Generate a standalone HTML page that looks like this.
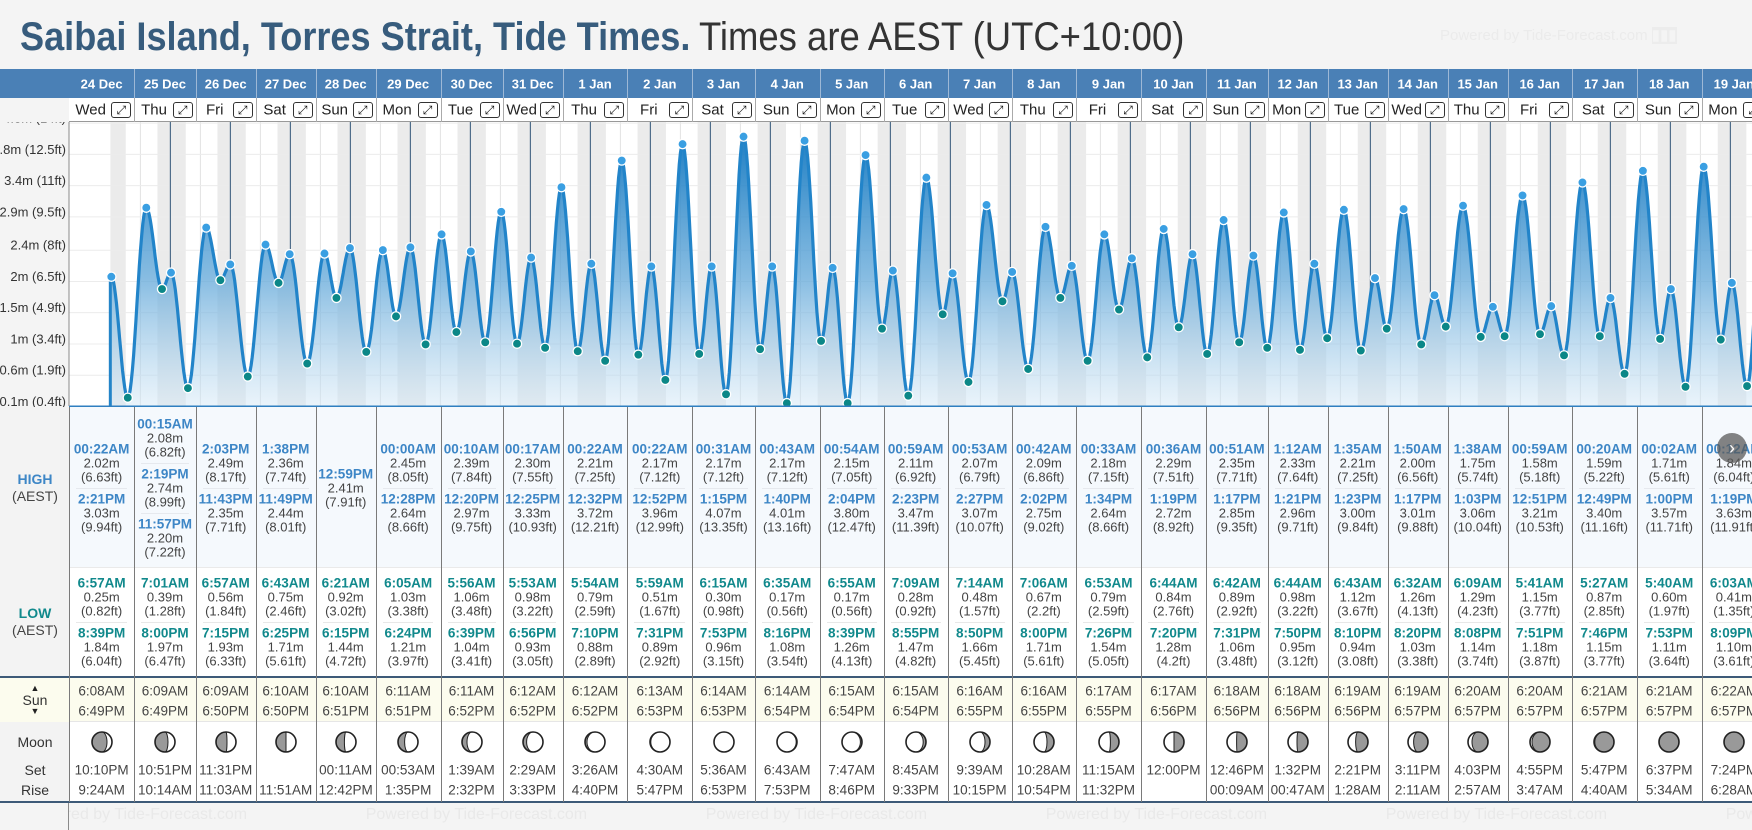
<!DOCTYPE html>
<html><head><meta charset="utf-8">
<style>
*{margin:0;padding:0;box-sizing:border-box}
html,body{overflow:hidden}
body{width:1752px;height:830px;overflow:hidden;background:#f4f4f4;font-family:"Liberation Sans",Arial,sans-serif;position:relative;color:#444}
.abs{position:absolute}
.t{position:absolute;white-space:nowrap;transform:translate(-50%,-50%)}
</style></head><body>
<div id="title" class="abs" style="left:20px;top:13px;height:48px;white-space:nowrap;font-size:40px;line-height:48px">
<span id="tb" style="display:inline-block;font-weight:bold;color:#375c7d;transform-origin:0 50%">Saibai Island, Torres Strait, Tide Times.</span>
<span id="tn" style="display:inline-block;color:#333;transform-origin:0 50%;position:absolute;left:679px;top:0">Times are AEST (UTC+10:00)</span>
</div>
<div class="abs" style="left:1440px;top:26px;font-size:15px;color:#ebebeb;white-space:nowrap">Powered by Tide-Forecast.com <span style="background:#ececec;color:#f4f4f4">▮▮▮</span></div>
<svg id="chart" class="abs" style="left:0;top:0" width="1752" height="830"></svg>
<div id="table" class="abs" style="left:0;top:0;width:1752px;height:830px;overflow:hidden"></div>
<div class="abs" style="left:1717px;top:433px;width:30px;height:30px;border-radius:50%;background:rgba(90,90,90,0.75);color:#fff;font-size:18px;line-height:30px;text-align:center">›</div>
<script>
const dates=["24 Dec","25 Dec","26 Dec","27 Dec","28 Dec","29 Dec","30 Dec","31 Dec","1 Jan","2 Jan","3 Jan","4 Jan","5 Jan","6 Jan","7 Jan","8 Jan","9 Jan","10 Jan","11 Jan","12 Jan","13 Jan","14 Jan","15 Jan","16 Jan","17 Jan","18 Jan","19 Jan"];
const weekdays=["Wed","Thu","Fri","Sat","Sun","Mon","Tue","Wed","Thu","Fri","Sat","Sun","Mon","Tue","Wed","Thu","Fri","Sat","Sun","Mon","Tue","Wed","Thu","Fri","Sat","Sun","Mon"];
const highs=["00:22AM 2.02 6.63|2:21PM 3.03 9.94","00:15AM 2.08 6.82|2:19PM 2.74 8.99|11:57PM 2.20 7.22","2:03PM 2.49 8.17|11:43PM 2.35 7.71","1:38PM 2.36 7.74|11:49PM 2.44 8.01","12:59PM 2.41 7.91","00:00AM 2.45 8.05|12:28PM 2.64 8.66","00:10AM 2.39 7.84|12:20PM 2.97 9.75","00:17AM 2.30 7.55|12:25PM 3.33 10.93","00:22AM 2.21 7.25|12:32PM 3.72 12.21","00:22AM 2.17 7.12|12:52PM 3.96 12.99","00:31AM 2.17 7.12|1:15PM 4.07 13.35","00:43AM 2.17 7.12|1:40PM 4.01 13.16","00:54AM 2.15 7.05|2:04PM 3.80 12.47","00:59AM 2.11 6.92|2:23PM 3.47 11.39","00:53AM 2.07 6.79|2:27PM 3.07 10.07","00:42AM 2.09 6.86|2:02PM 2.75 9.02","00:33AM 2.18 7.15|1:34PM 2.64 8.66","00:36AM 2.29 7.51|1:19PM 2.72 8.92","00:51AM 2.35 7.71|1:17PM 2.85 9.35","1:12AM 2.33 7.64|1:21PM 2.96 9.71","1:35AM 2.21 7.25|1:23PM 3.00 9.84","1:50AM 2.00 6.56|1:17PM 3.01 9.88","1:38AM 1.75 5.74|1:03PM 3.06 10.04","00:59AM 1.58 5.18|12:51PM 3.21 10.53","00:20AM 1.59 5.22|12:49PM 3.40 11.16","00:02AM 1.71 5.61|1:00PM 3.57 11.71","00:12AM 1.84 6.04|1:19PM 3.63 11.91"];
const lows=["6:57AM 0.25 0.82|8:39PM 1.84 6.04","7:01AM 0.39 1.28|8:00PM 1.97 6.47","6:57AM 0.56 1.84|7:15PM 1.93 6.33","6:43AM 0.75 2.46|6:25PM 1.71 5.61","6:21AM 0.92 3.02|6:15PM 1.44 4.72","6:05AM 1.03 3.38|6:24PM 1.21 3.97","5:56AM 1.06 3.48|6:39PM 1.04 3.41","5:53AM 0.98 3.22|6:56PM 0.93 3.05","5:54AM 0.79 2.59|7:10PM 0.88 2.89","5:59AM 0.51 1.67|7:31PM 0.89 2.92","6:15AM 0.30 0.98|7:53PM 0.96 3.15","6:35AM 0.17 0.56|8:16PM 1.08 3.54","6:55AM 0.17 0.56|8:39PM 1.26 4.13","7:09AM 0.28 0.92|8:55PM 1.47 4.82","7:14AM 0.48 1.57|8:50PM 1.66 5.45","7:06AM 0.67 2.2|8:00PM 1.71 5.61","6:53AM 0.79 2.59|7:26PM 1.54 5.05","6:44AM 0.84 2.76|7:20PM 1.28 4.2","6:42AM 0.89 2.92|7:31PM 1.06 3.48","6:44AM 0.98 3.22|7:50PM 0.95 3.12","6:43AM 1.12 3.67|8:10PM 0.94 3.08","6:32AM 1.26 4.13|8:20PM 1.03 3.38","6:09AM 1.29 4.23|8:08PM 1.14 3.74","5:41AM 1.15 3.77|7:51PM 1.18 3.87","5:27AM 0.87 2.85|7:46PM 1.15 3.77","5:40AM 0.60 1.97|7:53PM 1.11 3.64","6:03AM 0.41 1.35|8:09PM 1.10 3.61"];
const extraTides=["00:35AM 1.93 H","6:40AM 0.42 L","2:00PM 3.60 H"]; // 20 Jan (chart only)
const sunrise=["6:08AM","6:09AM","6:09AM","6:10AM","6:10AM","6:11AM","6:11AM","6:12AM","6:12AM","6:13AM","6:14AM","6:14AM","6:15AM","6:15AM","6:16AM","6:16AM","6:17AM","6:17AM","6:18AM","6:18AM","6:19AM","6:19AM","6:20AM","6:20AM","6:21AM","6:21AM","6:22AM"];
const sunset=["6:49PM","6:49PM","6:50PM","6:50PM","6:51PM","6:51PM","6:52PM","6:52PM","6:52PM","6:53PM","6:53PM","6:54PM","6:54PM","6:54PM","6:55PM","6:55PM","6:55PM","6:56PM","6:56PM","6:56PM","6:56PM","6:57PM","6:57PM","6:57PM","6:57PM","6:57PM","6:57PM"];
const moonset=["10:10PM","10:51PM","11:31PM","","00:11AM","00:53AM","1:39AM","2:29AM","3:26AM","4:30AM","5:36AM","6:43AM","7:47AM","8:45AM","9:39AM","10:28AM","11:15AM","12:00PM","12:46PM","1:32PM","2:21PM","3:11PM","4:03PM","4:55PM","5:47PM","6:37PM","7:24PM"];
const moonrise=["9:24AM","10:14AM","11:03AM","11:51AM","12:42PM","1:35PM","2:32PM","3:33PM","4:40PM","5:47PM","6:53PM","7:53PM","8:46PM","9:33PM","10:15PM","10:54PM","11:32PM","","00:09AM","00:47AM","1:28AM","2:11AM","2:57AM","3:47AM","4:40AM","5:34AM","6:28AM"];
const moonShade=[0.75,0.65,0.55,0.5,0.42,0.33,0.25,0.18,0.1,0.04,0,0.04,0.08,0.14,0.25,0.35,0.43,0.5,0.52,0.55,0.62,0.72,0.8,0.9,0.96,1,1];
const moonSide=["L","L","L","L","L","L","L","L","L","L","L","R","R","R","R","R","R","R","R","R","R","R","R","R","R","R","R"];
const axisValues=[0.122,0.579,1.036,1.494,1.951,2.408,2.896,3.353,3.81,4.267];
const axisLabels=["0.1m (0.4ft)","0.6m (1.9ft)","1m (3.4ft)","1.5m (4.9ft)","2m (6.5ft)","2.4m (8ft)","2.9m (9.5ft)","3.4m (11ft)","3.8m (12.5ft)","4.3m (14ft)"];

// layout (not data)
const bounds=[69,134.3,195.7,255.7,315.7,375.7,440.5,502.6,562.8,627.3,692.3,754.7,819.7,883.7,947.6,1011.6,1076,1141,1206,1267.7,1327.7,1387.7,1447.7,1507.7,1571.7,1636.7,1701.7,1766];
const X0=110.4, PXH=2.5, Y0=414.8, PXM=68.35, TOP=122, BOT=406;
function xs(hours){return X0+hours*PXH;}
function ys(v){return Y0-v*PXM;}
function parseT(s){const m=s.match(/(\d+):(\d+)(AM|PM)/);let h=(+m[1])%12+(m[3]=="PM"?12:0);return h+(+m[2])/60;}

(function(){const tb=document.getElementById('tb'),tn=document.getElementById('tn');
tb.style.transform='scaleX('+(670/tb.offsetWidth)+')';tn.style.transform='scaleX('+(485/tn.offsetWidth)+')';})();

const NS="http://www.w3.org/2000/svg";
const svg=document.getElementById('chart');
function S(tag,attrs,parent){const e=document.createElementNS(NS,tag);for(const k in attrs)e.setAttribute(k,attrs[k]);(parent||svg).appendChild(e);return e;}
S('rect',{x:69,y:TOP,width:1683,height:BOT-TOP,fill:'#ffffff'});
S('rect',{x:0,y:60,width:69,height:350,fill:'#f4f4f4'});
const bands=S('g',{});


S('rect',{x:xs(0),y:TOP,width:xs(parseT(sunrise[0]))-xs(0),height:BOT-TOP,fill:'#ebebeb'},bands);
for(let d=0;d<dates.length;d++){const a=xs(d*24+parseT(sunset[d]));const nr=d+1<dates.length?parseT(sunrise[d+1]):parseT(sunrise[d]);const b=xs((d+1)*24+nr);
S('rect',{x:a,y:TOP,width:b-a,height:BOT-TOP,fill:'#ebebeb'},bands);}
const grid=S('g',{});


for(let d=0;d<28;d++){const x=xs(d*24+12);S('line',{x1:x,x2:x,y1:TOP,y2:BOT,stroke:'#e2e2e2','stroke-width':1},grid);}
axisValues.forEach((v,i)=>{S('line',{x1:69,x2:1752,y1:ys(v),y2:ys(v),stroke:'#ececec','stroke-width':1},grid);
const t=S('text',{x:66,y:ys(v)-4,'text-anchor':'end','dominant-baseline':'middle','font-size':13,fill:'#333','font-family':'Liberation Sans, sans-serif'});
t.textContent=axisLabels[i];

});
const ev=[];
for(let d=0;d<dates.length;d++){
 highs[d].split('|').forEach(s=>{const p=s.split(' ');ev.push({t:d*24+parseT(p[0]),v:+p[1],h:true});});
 lows[d].split('|').forEach(s=>{const p=s.split(' ');ev.push({t:d*24+parseT(p[0]),v:+p[1],h:false});});}
extraTides.forEach(s=>{const p=s.split(' ');ev.push({t:dates.length*24+parseT(p[0]),v:+p[1],h:p[2]=='H'});});
ev.sort((a,b)=>a.t-b.t);
function valAt(t){for(let i=0;i<ev.length-1;i++){const a=ev[i],b=ev[i+1];if(t>=a.t&&t<=b.t){const u=(t-a.t)/(b.t-a.t);return a.v+(b.v-a.v)*(1-Math.cos(Math.PI*u))/2;}}return ev[ev.length-1].v;}
let pts=[];
for(let i=0;i<ev.length-1;i++){const a=ev[i],b=ev[i+1];const n=16;for(let k=0;k<n;k++){const u=k/n;const t=a.t+(b.t-a.t)*u;pts.push([xs(t),ys(a.v+(b.v-a.v)*(1-Math.cos(Math.PI*u))/2)]);}}
pts.push([xs(ev[ev.length-1].t),ys(ev[ev.length-1].v)]);
const defs=S('defs',{});
const cp=S('clipPath',{id:'cp'},defs);S('rect',{x:69,y:TOP,width:1683,height:BOT-TOP},cp);
const lg=S('linearGradient',{id:'fillg',x1:0,y1:150,x2:0,y2:BOT,gradientUnits:'userSpaceOnUse'},defs);
S('stop',{offset:0,'stop-color':'#1f7fc4','stop-opacity':0.95},lg);S('stop',{offset:0.5,'stop-color':'#5fa6d8','stop-opacity':0.75},lg);S('stop',{offset:1,'stop-color':'#d4e8f6','stop-opacity':0.5},lg);
const g=S('g',{'clip-path':'url(#cp)'});
const line=pts.map((p,i)=>(i?'L':'M')+p[0].toFixed(1)+','+p[1].toFixed(1)).join('');
const area=S('path',{d:line+'L'+pts[pts.length-1][0]+','+BOT+'L'+pts[0][0]+','+BOT+'Z',fill:'url(#fillg)'},g);


S('line',{x1:pts[0][0]-1,x2:pts[0][0]-1,y1:pts[0][1],y2:BOT,stroke:'#2384c8','stroke-width':3},g);
for(let d=1;d<=dates.length;d++){const t=d*24;const x=xs(t);const ml=S('line',{x1:x,x2:x,y1:TOP,y2:ys(valAt(t)),stroke:'#4f6d8a','stroke-width':1.2},g);

}
const tl=S('path',{d:line,fill:'none',stroke:'#2284c9','stroke-width':3.2,'stroke-linejoin':'round'},g);


ev.forEach(e=>{const c=S('circle',{cx:xs(e.t),cy:ys(e.v),r:4.6,fill:e.h?'#3a9fe2':'#0b8787',stroke:'#fff','stroke-width':1.3},g);

});
S('line',{x1:69,x2:1752,y1:BOT+0.5,y2:BOT+0.5,stroke:'#2f7fc0','stroke-width':2});
S('line',{x1:69,x2:69,y1:TOP,y2:BOT,stroke:'#8a8a8a','stroke-width':1});

const tb=document.getElementById('table');
function D(css,txt,name,inter){const e=document.createElement('div');e.style.cssText='position:absolute;'+css;if(txt!==undefined)e.textContent=txt;


tb.appendChild(e);return e;}
D('left:0;top:69px;width:1752px;height:29px;background:#4a80b6','', 'date-header-row');
D('left:0;top:98px;width:69px;height:24px;background:#f4f4f4','', 'header-corner');
D('left:69px;top:98px;width:1683px;height:24px;background:#fff;border-bottom:1px solid #999','', 'weekday-row');
D('left:0;top:407px;width:69px;height:395px;background:#f3f3f3','', 'label-column');
D('left:69px;top:407px;width:1683px;height:160px;background:#f5f9fd','', 'high-section');
D('left:69px;top:567px;width:1683px;height:109px;background:#fff;border-top:1px solid #eaeaea','', 'low-section');
D('left:0;top:676px;width:1752px;height:2px;background:#3d5a78','', 'sun-divider');
D('left:0;top:678px;width:1752px;height:44px;background:#fcfcee;border-bottom:1px solid #e6e6e6','', 'sun-row');
D('left:69px;top:722px;width:1683px;height:80px;background:#fff','', 'moon-row');
D('left:0;top:801px;width:1752px;height:2px;background:#3d5a78','', 'moon-divider');
D('left:0;top:803px;width:1752px;height:27px;background:#f4f4f4','', 'footer');
for(let k=0;k<6;k++){const x=25.7+340*k;D('left:'+x+'px;top:806px;font-size:16px;color:#e9e9e9;white-space:nowrap','Powered by Tide-Forecast.com','powered-by-footer');}
D('left:0;top:803px;width:69px;height:27px;background:#f4f4f4','', 'footer-mask');
D('left:68px;top:803px;width:1px;height:27px;background:#8a8a8a','', 'footer-divider');
D('left:35px;top:479px;font-size:14px;font-weight:bold;color:#3d86c6;transform:translate(-50%,-50%)','HIGH','high-label');
D('left:35px;top:496px;font-size:14px;color:#444;transform:translate(-50%,-50%)','(AEST)','high-tz-label');
D('left:35px;top:613px;font-size:14px;font-weight:bold;color:#11898c;transform:translate(-50%,-50%)','LOW','low-label');
D('left:35px;top:630px;font-size:14px;color:#444;transform:translate(-50%,-50%)','(AEST)','low-tz-label');
D('left:0;top:678px;width:69px;height:44px;background:#fcfcee','', 'sun-label-bg');
D('left:35px;top:688px;font-size:9px;color:#222;transform:translate(-50%,-50%)','▲','sun-rise-arrow');
D('left:35px;top:700px;font-size:14px;color:#333;transform:translate(-50%,-50%)','Sun','sun-label');
D('left:35px;top:711px;font-size:9px;color:#222;transform:translate(-50%,-50%)','▼','sun-set-arrow');
D('left:35px;top:742px;font-size:14px;color:#333;transform:translate(-50%,-50%)','Moon','moon-label');
D('left:35px;top:770px;font-size:14px;color:#333;transform:translate(-50%,-50%)','Set','moonset-label');
D('left:35px;top:790px;font-size:14px;color:#333;transform:translate(-50%,-50%)','Rise','moonrise-label');
function T(x,y,txt,css,name){return D('left:'+x+'px;top:'+y+'px;transform:translate(-50%,-50%);white-space:nowrap;'+css,txt,name);}
function moonPath(cx,cy,r,f,side){
 if(f<=0.001)return '';
 if(f>=0.999)return 'M'+cx+','+(cy-r)+'A'+r+','+r+' 0 1 1 '+cx+','+(cy+r)+'A'+r+','+r+' 0 1 1 '+cx+','+(cy-r)+'Z';
 const rx=Math.abs(1-2*f)*r;const so=side=='R'?1:0;let si;
 if(side=='R')si=f<0.5?0:1;else si=f<0.5?1:0;
 return 'M'+cx+','+(cy-r)+'A'+r+','+r+' 0 0 '+so+' '+cx+','+(cy+r)+'A'+rx+','+r+' 0 0 '+si+' '+cx+','+(cy-r)+'Z';}
for(let d=0;d<dates.length;d++){
 const L=bounds[d],R=bounds[d+1],W=R-L,cx=(L+R)/2;
 D('left:'+R+'px;top:69px;width:1px;height:29px;background:#9db8d6','', 'header-divider');
 D('left:'+R+'px;top:98px;width:1px;height:24px;background:#aaa','', 'weekday-divider');
 D('left:'+(L)+'px;top:407px;width:1px;height:395px;background:#7a7a7a','', 'column-divider');
 T(cx,83.5,dates[d],'font-size:13px;font-weight:bold;color:#fff','date-label');
 T(L+(W-24)/2+1,110,weekdays[d],'font-size:15px;color:#222','weekday-label');
 D('left:'+(R-23)+'px;top:102px;width:20px;height:16px;border:1px solid #333;border-radius:3px;background:#fff;font-size:12px;line-height:14px;text-align:center;color:#111','⤢','expand-day-button',true);
 const hs=highs[d].split('|');const hStart=487.5-(hs.length*50)/2;
 hs.forEach((s,i)=>{const p=s.split(' ');const y=hStart+i*50;
  if(i>0)D('left:'+(L+7)+'px;top:'+(y)+'px;width:'+(W-14)+'px;height:1px;background:#e6e9ee','', 'entry-separator');
  T(cx,y+11.3,p[0],'font-size:13.5px;font-weight:bold;color:#3d86c6','high-time');
  T(cx,y+25.5,p[1]+'m','font-size:13px;color:#444','high-height-m');
  T(cx,y+39,'('+p[2]+'ft)','font-size:13px;color:#444','high-height-ft');});
 const ls=lows[d].split('|');const lStart=621.5-(ls.length*50)/2;
 ls.forEach((s,i)=>{const p=s.split(' ');const y=lStart+i*50;
  if(i>0)D('left:'+(L+7)+'px;top:'+(y)+'px;width:'+(W-14)+'px;height:1px;background:#e8e8e8','', 'entry-separator');
  T(cx,y+11.3,p[0],'font-size:13.5px;font-weight:bold;color:#11898c','low-time');
  T(cx,y+25.5,p[1]+'m','font-size:13px;color:#444','low-height-m');
  T(cx,y+39,'('+p[2]+'ft)','font-size:13px;color:#444','low-height-ft');});
 T(cx,690.7,sunrise[d],'font-size:13.5px;color:#444','sunrise-time');
 T(cx,710.7,sunset[d],'font-size:13.5px;color:#444','sunset-time');
 const my=741.7,mr=10;
 const ms=S('svg',{width:26,height:26},null);
 const wrap=D('left:'+(cx-13)+'px;top:'+(my-13)+'px;width:26px;height:26px','', 'moon-phase-icon');
 wrap.appendChild(ms);
 S('circle',{cx:13,cy:13,r:mr,fill:'#fff'},ms);
 const pd=moonPath(13,13,mr,moonShade[d],moonSide[d]);
 if(pd)S('path',{d:pd,fill:'#999',stroke:'#222','stroke-width':1},ms);
 S('circle',{cx:13,cy:13,r:mr,fill:'none',stroke:'#222','stroke-width':1.6},ms);
 if(moonset[d])T(cx,769.7,moonset[d],'font-size:13.5px;color:#444','moonset-time');
 if(moonrise[d])T(cx,789.7,moonrise[d],'font-size:13.5px;color:#444','moonrise-time');
}
</script>
</body></html>
